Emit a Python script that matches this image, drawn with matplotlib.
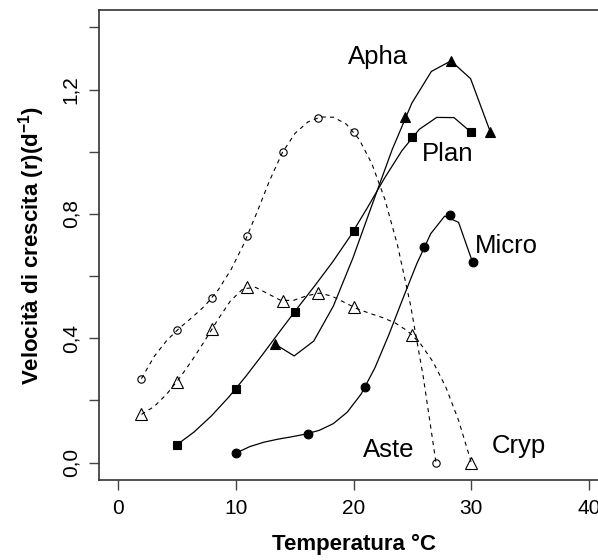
import numpy as np
import matplotlib
matplotlib.use('Agg')
import matplotlib.pyplot as plt

plt.rcParams['font.family'] = ['Liberation Sans', 'DejaVu Sans']
plt.rcParams['mathtext.fontset'] = 'custom'
plt.rcParams['mathtext.rm'] = 'Liberation Sans'
plt.rcParams['mathtext.bf'] = 'Liberation Sans:bold'
plt.rcParams['lines.scale_dashes'] = False

# values
aste_x = [2, 5, 8, 11, 14, 17, 20, 27]
aste_y = [0.27, 0.425, 0.53, 0.73, 1.0, 1.11, 1.065, 0.0]
cryp_x = [2, 5, 8, 11, 14, 17, 20, 25, 30]
cryp_y = [0.155, 0.26, 0.43, 0.565, 0.52, 0.545, 0.50, 0.41, 0.0]
plan_x = [5, 10, 15, 20, 25, 30]
plan_y = [0.057, 0.237, 0.485, 0.745, 1.048, 1.062]
apha_x = [13.3, 24.4, 28.3, 31.6]
apha_y = [0.382, 1.111, 1.292, 1.065]
micro_x = [10, 16.1, 21, 26, 28.2, 30.1]
micro_y = [0.03, 0.093, 0.243, 0.694, 0.796, 0.645]

xticks = [0, 10, 20, 30, 40]
yticks = [0.0, 0.2, 0.4, 0.6, 0.8, 1.0, 1.2, 1.4]
ytick_labels = ['0,0', '', '0,4', '', '0,8', '', '1,2', '']


def fmm_spline(x, y):
    # same smoothing as R's spline() (method "fmm", n = 3 * length(x))
    x = np.asarray(x, float)
    y = np.asarray(y, float)
    n = len(x)
    nm1 = n - 1
    b = np.zeros(n); c = np.zeros(n); d = np.zeros(n)
    d[0] = x[1] - x[0]
    c[1] = (y[1] - y[0]) / d[0]
    for i in range(1, nm1):
        d[i] = x[i + 1] - x[i]
        b[i] = 2.0 * (d[i - 1] + d[i])
        c[i + 1] = (y[i + 1] - y[i]) / d[i]
        c[i] = c[i + 1] - c[i]
    b[0] = -d[0]
    b[nm1] = -d[n - 2]
    c[0] = c[nm1] = 0.0
    if n > 3:
        c[0] = c[2] / (x[3] - x[1]) - c[1] / (x[2] - x[0])
        c[nm1] = c[n - 2] / (x[nm1] - x[n - 3]) - c[n - 3] / (x[n - 2] - x[n - 4])
        c[0] = c[0] * d[0] * d[0] / (x[3] - x[0])
        c[nm1] = -c[nm1] * d[n - 2] * d[n - 2] / (x[nm1] - x[n - 4])
    for i in range(1, n):
        t = d[i - 1] / b[i - 1]
        b[i] = b[i] - t * d[i - 1]
        c[i] = c[i] - t * c[i - 1]
    c[nm1] = c[nm1] / b[nm1]
    for i in range(n - 2, -1, -1):
        c[i] = (c[i] - d[i] * c[i + 1]) / b[i]
    b[nm1] = (y[nm1] - y[n - 2]) / d[n - 2] + d[n - 2] * (c[n - 2] + 2.0 * c[nm1])
    for i in range(nm1):
        b[i] = (y[i + 1] - y[i]) / d[i] - d[i] * (c[i + 1] + 2.0 * c[i])
        d[i] = (c[i + 1] - c[i]) / d[i]
        c[i] = 3.0 * c[i]
    c[nm1] = 3.0 * c[nm1]
    d[nm1] = d[n - 2]
    u = np.linspace(x[0], x[-1], 3 * n)
    idx = np.clip(np.searchsorted(x, u, side='right') - 1, 0, nm1)
    dx = u - x[idx]
    return u, y[idx] + dx * (b[idx] + dx * (c[idx] + dx * d[idx]))


dpi = 100
fig = plt.figure(figsize=(5.98, 5.6), dpi=dpi)
ax = fig.add_axes([0.1656, 0.1429, 0.8511, 0.8393])

series = [
    (aste_x, aste_y, 'o', 'none', 5.3, 'dashed'),
    (cryp_x, cryp_y, '^', 'none', 8.0, 'dashed'),
    (plan_x, plan_y, 's', 'black', 5.8, 'solid'),
    (apha_x, apha_y, '^', 'black', 7.2, 'solid'),
    (micro_x, micro_y, 'o', 'black', 6.3, 'solid'),
]
for sx, sy, mk, fc, ms, ls in series:
    u, v = fmm_spline(sx, sy)
    if ls == 'dashed':
        ax.plot(u, v, color='black', lw=0.8, linestyle=(0, (3, 3)))
    else:
        ax.plot(u, v, color='black', lw=0.9)
    ax.plot(sx, sy, linestyle='none', marker=mk, markersize=ms,
            markerfacecolor=fc, markeredgecolor='black', markeredgewidth=0.8)

ax.text(22.1, 1.305, 'Apha', fontsize=18.5, ha='center', va='center')
ax.text(28.0, 0.993, 'Plan', fontsize=18.5, ha='center', va='center')
ax.text(33.0, 0.697, 'Micro', fontsize=18.5, ha='center', va='center')
ax.text(23.0, 0.041, 'Aste', fontsize=18.5, ha='center', va='center')
ax.text(34.0, 0.052, 'Cryp', fontsize=18.5, ha='center', va='center')

ax.set_xlim(-1.6, 41.6)
ax.set_ylim(-0.056, 1.456)
ax.set_xticks(xticks)
ax.set_xticklabels([str(t) for t in xticks], fontsize=15)
ax.set_yticks(yticks)
ax.set_yticklabels(ytick_labels, fontsize=15, rotation=90, va='center')
ax.tick_params(direction='out', length=7.5, width=1, color='#444444', pad=6)
for s in ['left', 'bottom', 'top']:
    ax.spines[s].set_linewidth(1.2)
    ax.spines[s].set_color('#333333')
ax.spines['right'].set_visible(False)

ax.set_xlabel('Temperatura °C', fontsize=16, fontweight='bold', labelpad=12)
ax.set_ylabel(r'Velocità di crescita (r)(d$^{\mathbf{-1}}$)', fontsize=16,
              fontweight='bold', labelpad=10)

fig.savefig('out.png', dpi=dpi)
plt.close(fig)
